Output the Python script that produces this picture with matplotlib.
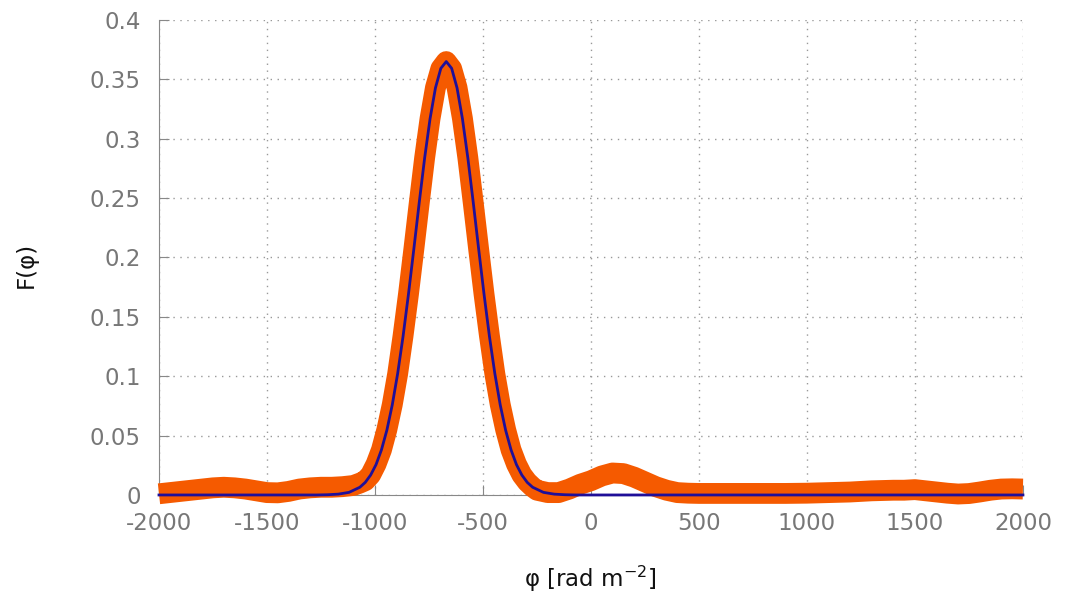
import numpy as np
import matplotlib.pyplot as plt
import matplotlib
matplotlib.rcParams['font.family'] = 'DejaVu Sans'
matplotlib.rcParams['axes.unicode_minus'] = False

phi_obs = [-2000, -1950, -1900, -1850, -1800, -1750, -1700, -1650, -1600, -1550,
           -1500, -1450, -1400, -1350, -1300, -1250, -1200, -1150, -1100, -1070,
           -1045, -1020, -995, -970, -945, -920, -895, -870, -845, -820,
           -795, -770, -745, -720, -695, -670, -645, -620, -595, -570,
           -545, -520, -495, -470, -445, -420, -395, -370, -345, -320,
           -295, -270, -250, -200, -150, -100, -50, 0, 50, 100,
           150, 200, 250, 300, 350, 400, 450, 500, 600, 700,
           800, 900, 1000, 1100, 1200, 1300, 1400, 1450, 1500, 1550,
           1600, 1650, 1700, 1750, 1800, 1850, 1900, 1950, 2000]
F_obs = [0.001, 0.002, 0.003, 0.004, 0.005, 0.006, 0.0065, 0.006, 0.005, 0.0035,
         0.002, 0.0018, 0.003, 0.005, 0.006, 0.0065, 0.0065, 0.007, 0.008, 0.010,
         0.012, 0.017, 0.026, 0.038, 0.055, 0.076, 0.102, 0.134, 0.169, 0.207,
         0.246, 0.284, 0.317, 0.343, 0.359, 0.365, 0.359, 0.343, 0.317, 0.284,
         0.246, 0.207, 0.169, 0.134, 0.102, 0.076, 0.055, 0.038, 0.026, 0.017,
         0.011, 0.0067, 0.004, 0.002, 0.002, 0.005, 0.009, 0.012, 0.016, 0.0185,
         0.018, 0.015, 0.011, 0.007, 0.004, 0.002, 0.0015, 0.0013, 0.0013, 0.0013,
         0.0013, 0.0013, 0.0015, 0.002, 0.0025, 0.0035, 0.004, 0.004, 0.0045, 0.0035,
         0.0025, 0.0015, 0.0008, 0.0012, 0.0025, 0.004, 0.005, 0.0052, 0.005]

# model curve (blue)
phi_mod = [-2000, -1270, -1220, -1170, -1120, -1070, -1045, -1020, -995, -970,
           -945, -920, -895, -870, -845, -820, -795, -770, -745, -720,
           -695, -670, -645, -620, -595, -570, -545, -520, -495, -470,
           -445, -420, -395, -370, -345, -320, -295, -270, -220, -170,
           -120, -70, 2000]
F_mod = [0.0, 0.0, 0.0002, 0.0007, 0.0022, 0.0065, 0.0106, 0.0168, 0.0256, 0.0380,
         0.0545, 0.0758, 0.1022, 0.1335, 0.1690, 0.2072, 0.2464, 0.2838, 0.3168, 0.3428,
         0.3593, 0.365, 0.3593, 0.3428, 0.3168, 0.2838, 0.2464, 0.2072, 0.1690, 0.1335,
         0.1022, 0.0758, 0.0545, 0.0380, 0.0256, 0.0168, 0.0106, 0.0065, 0.0022, 0.0007,
         0.0002, 0.0, 0.0]

fig = plt.figure(figsize=(10.67, 5.97), dpi=100)
ax = fig.add_axes([0.149, 0.1709, 0.8097, 0.7956])

ax.plot(phi_obs, F_obs, color='#f55a00', lw=15, solid_capstyle='butt',
        solid_joinstyle='round', clip_on=False, zorder=3)
ax.plot(phi_mod, F_mod, color='#1f0f99', lw=2, clip_on=False, zorder=4)

ax.set_xlim(-2000, 2000)
ax.set_ylim(0, 0.4)
ax.set_xticks(np.arange(-2000, 2001, 500))
ax.set_yticks(np.arange(0, 0.401, 0.05))
ax.set_yticklabels(['0', '0.05', '0.1', '0.15', '0.2', '0.25', '0.3', '0.35', '0.4'])

ax.grid(True, color='#999999', lw=1, linestyle=(0, (1, 4)))
ax.set_axisbelow(True)
for s in ['top', 'right']:
    ax.spines[s].set_visible(False)
for s in ['left', 'bottom']:
    ax.spines[s].set_color('#888888')
ax.tick_params(direction='in', length=7, color='#888888', labelcolor='#777777',
               labelsize=16.5)
ax.tick_params(axis='x', pad=12)
ax.tick_params(axis='y', pad=13)

ax.set_xlabel('φ [rad m$^{-2}$]', fontsize=16.5, color='#111111')
ax.set_ylabel('F(φ)', fontsize=16.5, color='#111111')
ax.xaxis.set_label_coords(0.499, -0.145)
ax.yaxis.set_label_coords(-0.14, 0.484)

fig.savefig('out.png', dpi=100)
